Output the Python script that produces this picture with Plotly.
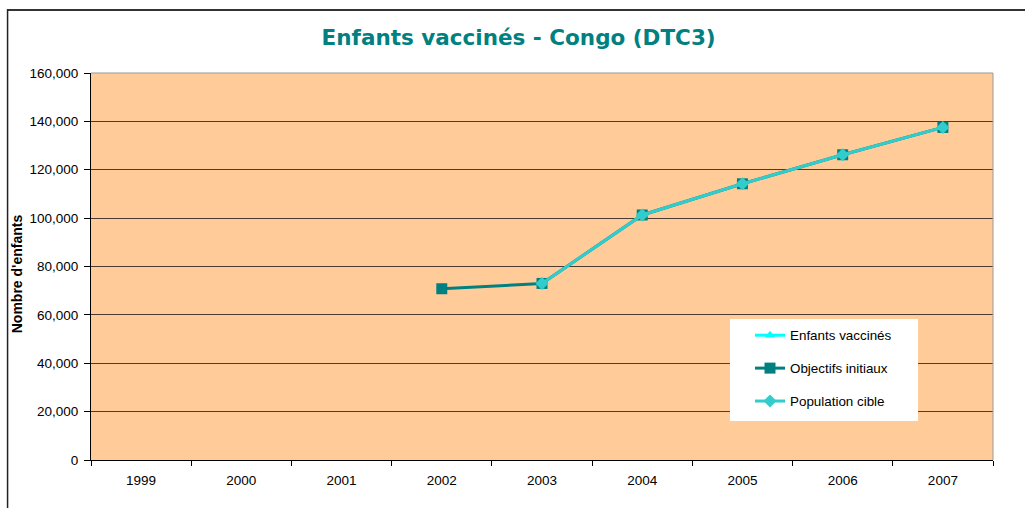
import plotly.graph_objects as go

years = ["1999", "2000", "2001", "2002", "2003", "2004", "2005", "2006", "2007"]
enfants_vaccines = [None, None, None, None, None, None, None, None, None]
objectifs_initiaux = [None, None, None, 70800, 73000, 101300, 114200, 126200, 137500]
population_cible = [None, None, None, None, 73000, 101300, 114200, 126200, 137500]
y_ticks = [0, 20000, 40000, 60000, 80000, 100000, 120000, 140000, 160000]

fig = go.Figure()
fig.add_trace(go.Scatter(
    x=years, y=enfants_vaccines, name="Enfants vaccinés", mode="lines+markers",
    line=dict(color="#00FFFF", width=3), legendgroup="a",
    marker=dict(symbol="triangle-up", size=9, color="#00FFFF"),
))
fig.add_trace(go.Scatter(
    x=years, y=objectifs_initiaux, name="Objectifs initiaux", mode="lines+markers",
    line=dict(color="#008080", width=3), legendgroup="b",
    marker=dict(symbol="square", size=11, color="#008080"),
))
fig.add_trace(go.Scatter(
    x=years, y=population_cible, name="Population cible", mode="lines+markers",
    line=dict(color="#33CCCC", width=3), legendgroup="c",
    marker=dict(symbol="diamond", size=10, color="#33CCCC"),
))

fig.update_layout(
    width=1025, height=508,
    margin=dict(l=91, r=32, t=73, b=48),
    paper_bgcolor="white",
    plot_bgcolor="#FFCC99",
    font=dict(family="Liberation Sans, Arial, sans-serif", size=13, color="black"),
    title=dict(
        text="<b>Enfants vaccinés - Congo (DTC3)</b>",
        x=0.506, xanchor="center", y=0.927, yanchor="middle",
        font=dict(family="DejaVu Sans", size=21.5, color="#008080"),
    ),
    xaxis=dict(
        type="category", range=[-0.5, 8.5], tickson="boundaries",
        ticks="outside", ticklen=5, tickcolor="black",
        showgrid=False, showline=True, linecolor="black", linewidth=1,
        tickfont=dict(size=13.5), ticklabelstandoff=8,
    ),
    yaxis=dict(
        range=[0, 160000], tickvals=y_ticks, tickformat=",",
        ticks="outside", ticklen=6, tickcolor="black",
        showgrid=True, gridcolor="#4a3c30", gridwidth=1,
        showline=True, linecolor="black", linewidth=1,
        zeroline=False, tickfont=dict(size=13.5), ticklabelstandoff=3,
    ),
    legend=dict(
        x=0.7306, y=0.3618, xanchor="left", yanchor="top",
        bgcolor="rgba(0,0,0,0)", borderwidth=0,
        font=dict(size=13.4, color="black"),
        tracegroupgap=12.5, itemwidth=30,
    ),
    showlegend=True,
    annotations=[
        dict(text="<b>Nombre d'enfants</b>", xref="paper", yref="paper",
             x=-0.082, y=0.48, textangle=-90, showarrow=False,
             xanchor="center", yanchor="middle", font=dict(size=14, color="black")),
    ],
    shapes=[
        dict(type="rect", xref="paper", yref="paper", x0=0.7084, x1=0.9169, y0=0.1008, y1=0.3643,
             fillcolor="white", line=dict(width=0), layer="above"),
        dict(type="line", xref="paper", yref="paper", x0=1, x1=1, y0=0, y1=1,
             line=dict(color="#999999", width=1)),
        dict(type="line", xref="paper", yref="paper", x0=0, x1=1, y0=1, y1=1,
             line=dict(color="#999999", width=1)),
        dict(type="line", xref="paper", yref="paper", x0=-0.0931, x1=1.05, y0=1.163, y1=1.163,
             line=dict(color="#333333", width=2)),
        dict(type="line", xref="paper", yref="paper", x0=-0.0925, x1=-0.0925, y0=1.165, y1=-0.2,
             line=dict(color="#222222", width=1.5)),
    ],
)

fig.write_html("out.html", config={"displayModeBar": False},
               post_script="document.body.style.margin='0';document.body.style.overflow='hidden';")
